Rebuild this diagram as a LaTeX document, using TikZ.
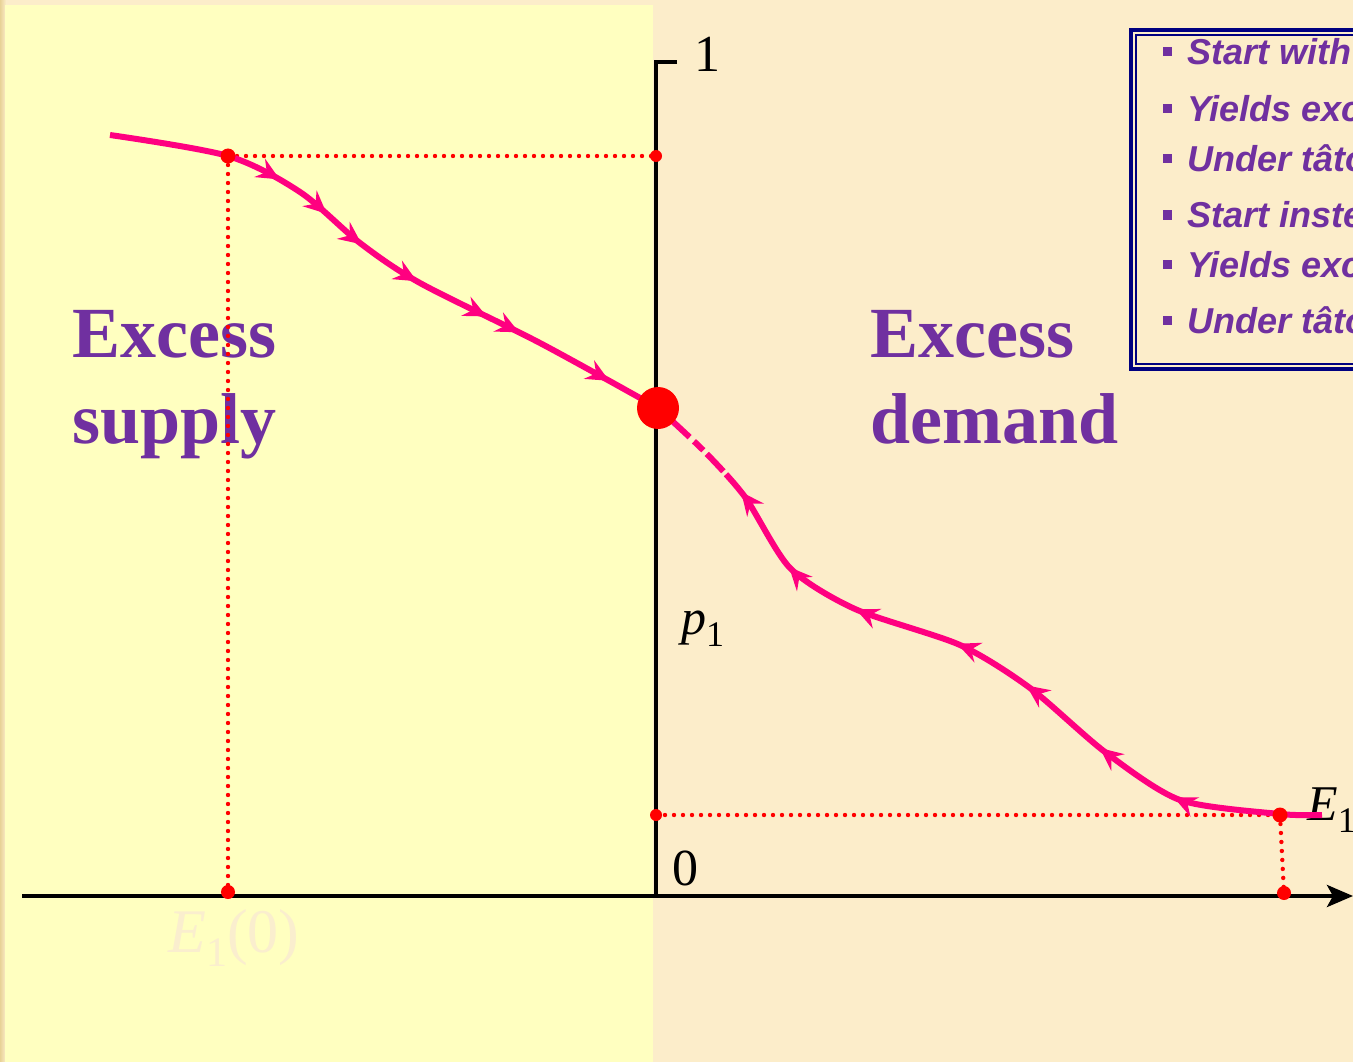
\documentclass[tikz,border=0pt]{standalone}
\usepackage{fontspec}
\setmainfont{Liberation Serif}
\newfontfamily\boxfont{Liberation Sans}
\usetikzlibrary{arrows.meta,decorations.markings}
\definecolor{bgbeige}{RGB}{252,237,202}
\definecolor{edgebeige}{RGB}{232,210,150}
\definecolor{panelyellow}{RGB}{255,255,192}
\definecolor{curvepink}{RGB}{255,0,128}
\definecolor{txtpurple}{RGB}{112,48,160}
\definecolor{boxnavy}{RGB}{0,0,128}
\definecolor{fainttxt}{RGB}{250,238,206}
\tikzset{
  curve/.style={draw=curvepink, line width=6pt, line join=round},
  dotline/.style={draw=red, line width=4.4pt, line cap=round, dash pattern=on 0pt off 9pt},
  reddot/.style={fill=red},
  axisline/.style={draw=black, line width=4pt},
  bigword/.style={anchor=base west, text=txtpurple, font=\fontsize{72}{72}\selectfont\bfseries, inner sep=0pt},
  bullettext/.style={anchor=base west, text=txtpurple, font=\boxfont\fontsize{36}{36}\selectfont\bfseries\itshape, inner sep=0pt},
  bulletsq/.style={fill=txtpurple, minimum size=9pt, inner sep=0pt},
  numlabel/.style={anchor=base west, font=\fontsize{52}{52}\selectfont, inner sep=0pt},
}
\newcommand{\fwdtip}{\arrow[color=curvepink]{Stealth[length=23pt,width=21pt,inset=8pt]}}
\newcommand{\bwdtip}{\arrowreversed[color=curvepink]{Stealth[length=23pt,width=21pt,inset=8pt]}}
\begin{document}
\begin{tikzpicture}[x=1pt,y=-1pt]
\useasboundingbox (0,0) rectangle (1353,1062);
\clip (0,0) rectangle (1353,1062);
% background
\fill[bgbeige] (0,0) rectangle (1353,1062);
\shade[left color=edgebeige, right color=bgbeige] (0,0) rectangle (6,1062);
\fill[panelyellow] (5,5) rectangle (653,1062);

% info box
\draw[boxnavy, line width=4pt] (1131,30) rectangle (1400,369);
\draw[boxnavy, line width=2pt] (1136,35) rectangle (1400,364);
\foreach \yb/\txt [count=\i] in {65/Start with, 122/Yields excess, 172/Under tâtonnement, 228/Start instead, 277/Yields excess, 333/Under tâtonnement}{
  \node[bulletsq] (bul\i) at (1167,\yb-13) {};
  \node[bullettext] (btx\i) at (1187,\yb) {\txt};
}

% big labels
\node[bigword] (supA) at (72,357) {Excess};
\node[bigword] (supB) at (72,443) {supply};
\node[bigword] (demA) at (870,357) {Excess};
\node[bigword] (demB) at (870,443) {demand};

% faint label
\node[anchor=base west, inner sep=0pt, text=fainttxt, font=\fontsize{62}{62}\selectfont] (eonezero) at (168,952)
  {\textit{E}\raisebox{-14pt}{\fontsize{42}{42}\selectfont 1}(0)};

% axes
\coordinate (ytick) at (677,62);
\coordinate (ytop) at (656,62);
\coordinate (origin) at (656,896);
\coordinate (xleft) at (22,896);
\coordinate (xright) at (1353,896);
\draw[axisline] (ytick) -- (ytop) -- (origin);
\draw[axisline, -{Stealth[length=26pt,width=22pt,inset=6pt]}] (xleft) -- (xright);

% axis labels
\node[numlabel] (lblone) at (694,72) {1};
\node[numlabel] (lblzero) at (672,885) {0};
\node[anchor=base west, inner sep=0pt, font=\fontsize{50}{50}\selectfont] (lblp) at (681,634)
  {\textit{p}\raisebox{-12pt}{\fontsize{36}{36}\selectfont 1}};
\node[anchor=base west, inner sep=0pt, font=\fontsize{50}{50}\selectfont] (lble) at (1307,820)
  {\textit{E}\raisebox{-12pt}{\fontsize{36}{36}\selectfont 1}};

% dotted guides
\coordinate (pA) at (228,156);
\coordinate (pAy) at (656,156);
\coordinate (pAx) at (228,892);
\coordinate (pB) at (1280,815);
\coordinate (pBy) at (656,815);
\coordinate (pBx) at (1284,893);
\draw[dotline] (pA) -- (pAy);
\draw[dotline] (pA) -- (pAx);
\draw[dotline] (pBy) -- (pB);
\draw[dotline] (pB) -- (pBx);

% curve: left part (forward arrows)
\draw[curve, postaction={decorate}, decoration={markings,
   mark=at position 0.285 with {\fwdtip},
   mark=at position 0.379 with {\fwdtip},
   mark=at position 0.454 with {\fwdtip},
   mark=at position 0.561 with {\fwdtip},
   mark=at position 0.687 with {\fwdtip},
   mark=at position 0.745 with {\fwdtip},
   mark=at position 0.910 with {\fwdtip}}]
  plot[smooth, tension=0.5] coordinates {(110,135) (228,156) (300,192) (360,243) (420,283) (540,343) (658,408)};

% curve: right part (backward arrows)
\draw[curve, dash pattern=on 43pt off 6pt on 13pt off 5pt on 24pt off 4pt on 3000pt,
   postaction={decorate}, decoration={markings,
   mark=at position 0.146 with {\bwdtip},
   mark=at position 0.256 with {\bwdtip},
   mark=at position 0.354 with {\bwdtip},
   mark=at position 0.486 with {\bwdtip},
   mark=at position 0.586 with {\bwdtip},
   mark=at position 0.705 with {\bwdtip},
   mark=at position 0.815 with {\bwdtip}}]
  plot[smooth, tension=0.45] coordinates {(658,408) (705,452) (745,497) (790,568) (855,609) (960,645) (1030,688) (1105,752) (1180,800) (1280,814) (1322,815)};

% dots
\fill[reddot] (pA) circle (7.5pt);
\fill[reddot] (pAy) circle (6pt);
\fill[reddot] (pAx) circle (7pt);
\fill[reddot] (pB) circle (7.5pt);
\fill[reddot] (pBy) circle (6pt);
\fill[reddot] (pBx) circle (7pt);
\node[circle, fill=red, minimum size=42pt, inner sep=0pt] (eq) at (658,408) {};
\end{tikzpicture}
\end{document}
